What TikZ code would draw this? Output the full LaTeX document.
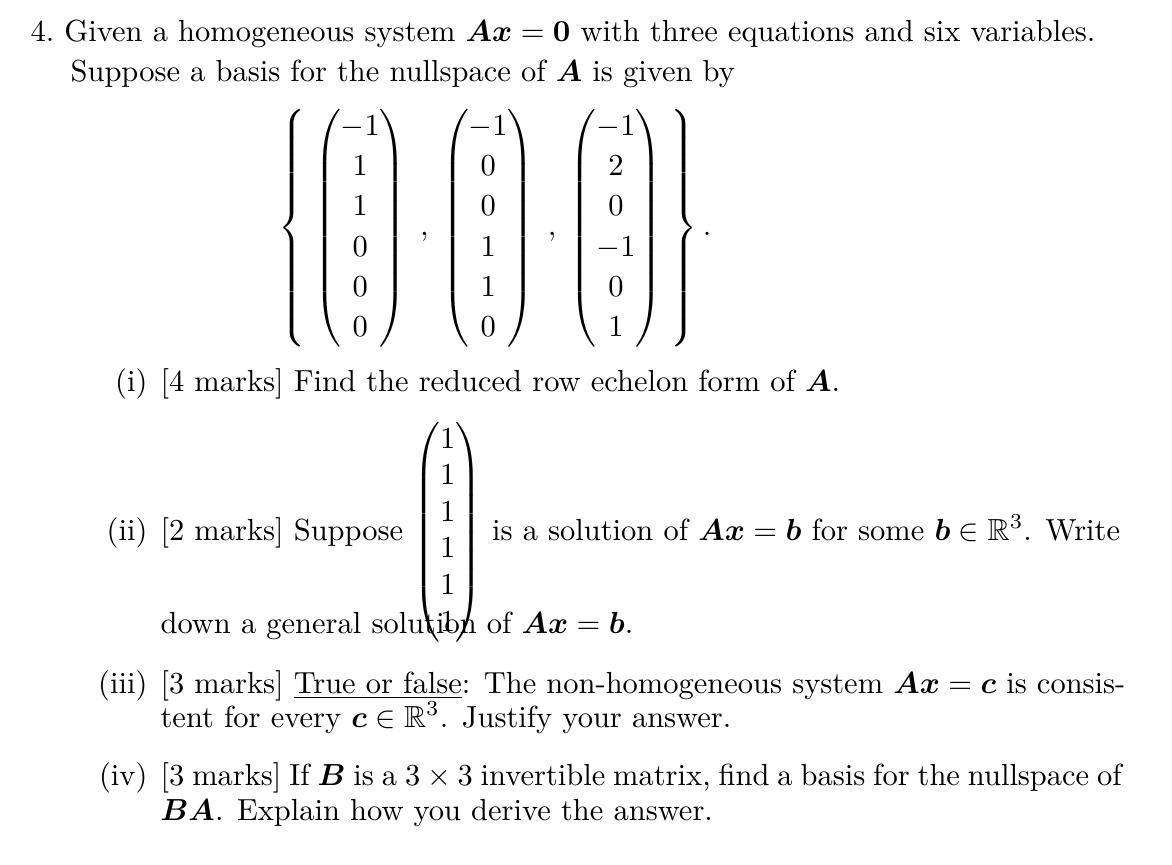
\documentclass[tikz,border=0pt]{standalone}
\usepackage{amsmath,amssymb,bm}
\begin{document}
\begin{tikzpicture}[x=0.328pt,y=-0.328pt,
  txt/.style={anchor=base west,inner sep=0pt},
  lab/.style={anchor=base east,inner sep=0pt}]
\useasboundingbox (0,0) rectangle (1172,865);
\node[txt] (l1) at (30,42) {4.\ Given a homogeneous system $\bm{Ax}=\bm{0}$ with three equations and six variables.};
\node[txt] (l2) at (70,82) {Suppose a basis for the nullspace of $\bm{A}$ is given by};
\node[inner sep=0pt] (set) at (495,228) {\renewcommand{\arraystretch}{1.1}$\left\{\;\begin{pmatrix}-1\\1\\1\\0\\0\\0\end{pmatrix}\;,\;\begin{pmatrix}-1\\0\\0\\1\\1\\0\end{pmatrix}\;,\;\begin{pmatrix}-1\\2\\0\\-1\\0\\1\end{pmatrix}\;\right\}.$};
\node[lab] (i) at (148,392) {(i)};
\node[txt] (it) at (160,392) {[4 marks] Find the reduced row echelon form of $\bm{A}$.};
\node[lab] (ii) at (148,540) {(ii)};
\node[txt] (iit) at (160,540) {[2 marks] Suppose \renewcommand{\arraystretch}{1.0}$\begin{pmatrix}1\\1\\1\\1\\1\\1\end{pmatrix}$ is a solution of $\bm{Ax}=\bm{b}$ for some $\bm{b}\in\mathbb{R}^3$. Write};
\node[txt] (iit2) at (160,633) {down a general solution of $\bm{Ax}=\bm{b}$.};
\node[lab] (iii) at (148,693) {(iii)};
\node[txt] (iiit) at (160,693) {[3 marks] \underline{True or false}: The non-homogeneous system $\bm{Ax}=\bm{c}$ is consis-};
\node[txt] (iiit2) at (160,727) {tent for every $\bm{c}\in\mathbb{R}^3$. Justify your answer.};
\node[lab] (iv) at (148,785) {(iv)};
\node[txt] (ivt) at (160,785) {\spaceskip=2.6pt plus 1pt [3 marks] If $\bm{B}$ is a $3\times3$ invertible matrix, find a basis for the nullspace of};
\node[txt] (ivt2) at (160,820) {$\bm{BA}$. Explain how you derive the answer.};
\end{tikzpicture}
\end{document}
